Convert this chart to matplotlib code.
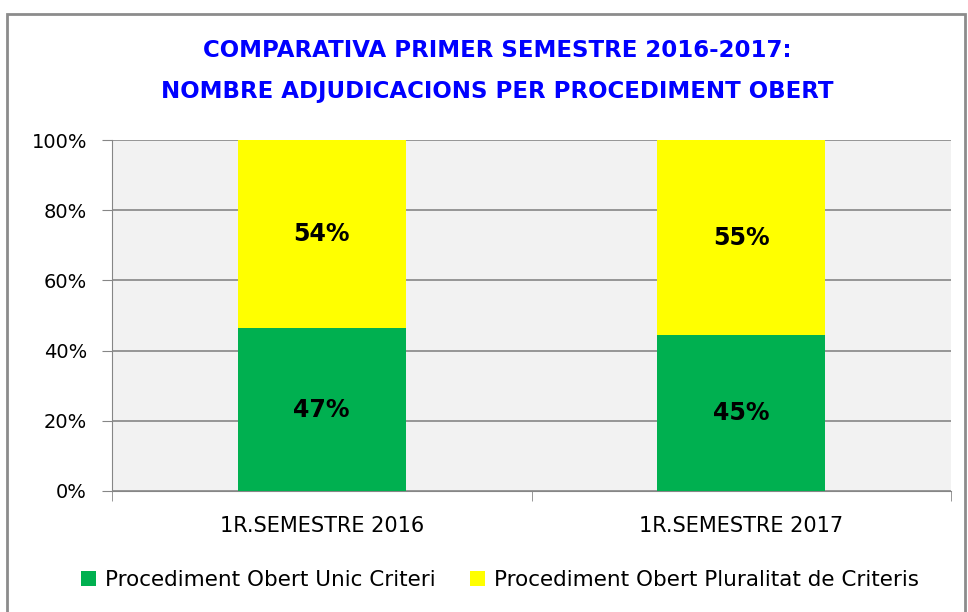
import matplotlib.pyplot as plt
from matplotlib.patches import Rectangle
from matplotlib.ticker import FuncFormatter, FixedLocator
import numpy as np

categories = ["1R.SEMESTRE 2016", "1R.SEMESTRE 2017"]
unic = [46.4, 44.4]
pluralitat = [53.6, 55.6]
unic_labels = ["47%", "45%"]
pluralitat_labels = ["54%", "55%"]
series_names = ["Procediment Obert Unic Criteri",
                "Procediment Obert Pluralitat de Criteris"]
title = ("COMPARATIVA PRIMER SEMESTRE 2016-2017:\n"
         "NOMBRE ADJUDICACIONS PER PROCEDIMENT OBERT")

green = "#00B050"
yellow = "#FFFF00"
grid_col = "#868686"

fig = plt.figure(figsize=(9.68, 6.12), dpi=100)
fig.patch.set_facecolor("white")

# chart frame (clipped on right/bottom like the original)
fig.patches.append(Rectangle((7 / 968, -0.05), 958 / 968, 1.05 - 14 / 612,
                             transform=fig.transFigure, fill=False,
                             edgecolor="#8C8C8C", linewidth=2))

ax = fig.add_axes([112 / 968, 1 - 491 / 612, (951 - 112) / 968, 351 / 612])
ax.set_facecolor("#F2F2F2")

x = np.arange(len(categories))
b1 = ax.bar(x, unic, width=0.4, color=green, zorder=3, label=series_names[0])
b2 = ax.bar(x, pluralitat, width=0.4, bottom=unic, color=yellow, zorder=3,
            label=series_names[1])

for i in range(len(x)):
    ax.text(x[i], unic[i] / 2, unic_labels[i], ha="center", va="center",
            fontsize=17, fontweight="bold", color="black", zorder=4)
    ax.text(x[i], unic[i] + pluralitat[i] / 2, pluralitat_labels[i],
            ha="center", va="center", fontsize=17, fontweight="bold",
            color="black", zorder=4)

ax.set_xlim(-0.5, 1.5)
ax.set_ylim(0, 100)
ax.set_yticks(np.arange(0, 101, 20))
ax.yaxis.set_major_formatter(FuncFormatter(lambda v, p: f"{int(v)}%"))
ax.grid(axis="y", color=grid_col, linewidth=1.2, zorder=1)

ax.set_xticks(x)
ax.set_xticklabels(categories, fontsize=15)
ax.xaxis.set_minor_locator(FixedLocator([-0.5, 0.5, 1.5]))
ax.tick_params(axis="x", which="major", length=0, pad=18)
ax.tick_params(axis="x", which="minor", length=7, color=grid_col)
ax.tick_params(axis="y", length=7, color=grid_col, labelsize=14, pad=11)

for s in ["top", "right"]:
    ax.spines[s].set_visible(False)
ax.spines["left"].set_color(grid_col)
ax.spines["bottom"].set_color(grid_col)

fig.text(497 / 968, 1 - 71 / 612, title, ha="center", va="center",
         fontsize=16.5, fontweight="bold", color="#0000FF",
         linespacing=2.05)

fig.legend(handles=[b1, b2], loc="center", bbox_to_anchor=(500 / 968, 1 - 580 / 612),
           ncol=2, frameon=False, prop={"size": 15.5},
           handlelength=0.7, handleheight=0.7, handletextpad=0.4,
           columnspacing=1.6)

fig.savefig("out.png", dpi=100)
